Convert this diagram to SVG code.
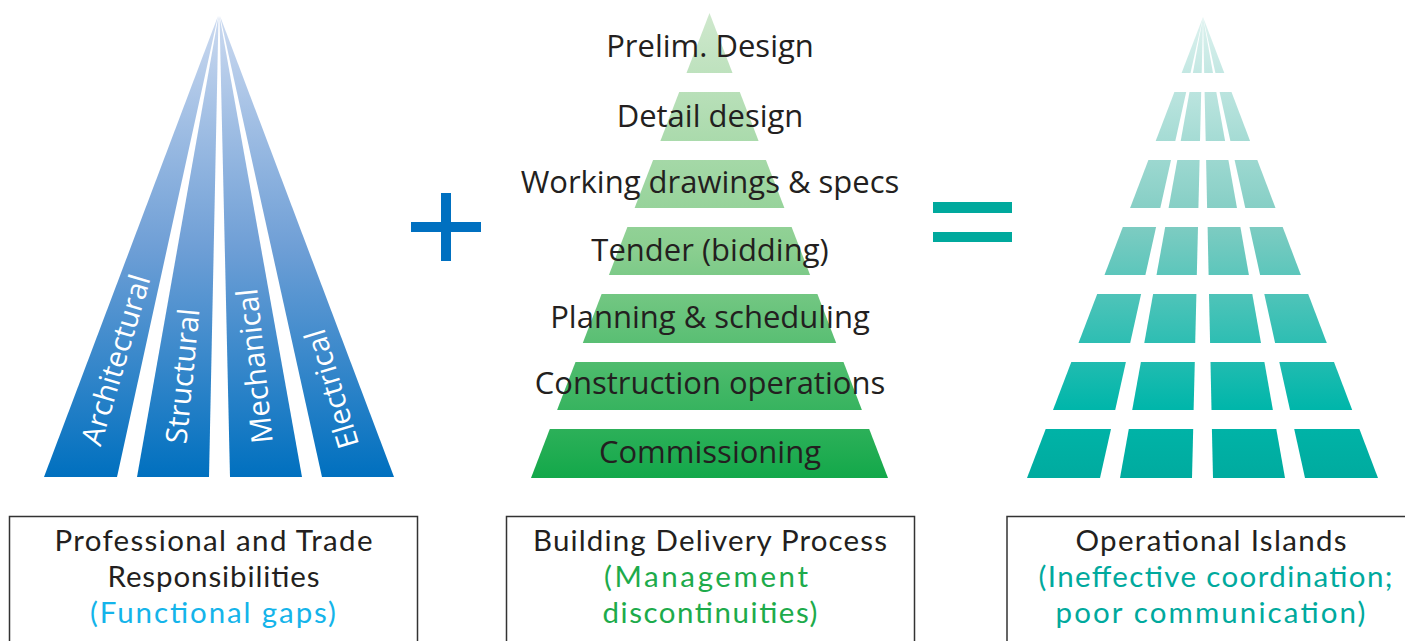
<svg xmlns="http://www.w3.org/2000/svg" width="1405" height="641" viewBox="0 0 1405 641">
<defs>
<linearGradient id="gBlue" gradientUnits="userSpaceOnUse" x1="0" y1="16" x2="0" y2="477">
<stop offset="0" stop-color="#ccdaf0"/>
<stop offset="0.5" stop-color="#6f9fd6"/>
<stop offset="1" stop-color="#0070bf"/>
</linearGradient>
<linearGradient id="gGreen" gradientUnits="userSpaceOnUse" x1="0" y1="13" x2="0" y2="478">
<stop offset="0" stop-color="#cfe8cd"/>
<stop offset="0.5" stop-color="#8ccf91"/>
<stop offset="1" stop-color="#13a84a"/>
</linearGradient>
<linearGradient id="gTeal" gradientUnits="userSpaceOnUse" x1="0" y1="17" x2="0" y2="478">
<stop offset="0" stop-color="#ddf2ef"/>
<stop offset="0.45" stop-color="#7fccc2"/>
<stop offset="0.85" stop-color="#00b6aa"/>
<stop offset="1" stop-color="#00ab9f"/>
</linearGradient>
</defs>
<style>
.t{font-family:"Open Sans","Noto Sans","DejaVu Sans",sans-serif;text-anchor:middle}
.strip{fill:url(#gBlue)}
.slab{fill:#ffffff;font-size:29.5px}
.tier{fill:url(#gGreen)}
.tlab{fill:#231f20;font-size:31px}
.tile{fill:url(#gTeal)}
.box{fill:none;stroke:#333333;stroke-width:1.5}
.bl{font-family:Lato,"Open Sans",sans-serif;text-anchor:middle;fill:#231f20;font-size:29.5px}
.cyan{fill:#14b4ea}
.green{fill:#1dab4b}
.teal{fill:#00a99d}
</style>

<g id="professional-pyramid">
<polygon class="strip" points="218,16 44,477 117,477"/>
<polygon class="strip" points="218.5,16 137,477 209,477"/>
<polygon class="strip" points="219.5,16 230,477 302,477"/>
<polygon class="strip" points="220,16 322,477 394,477"/>
<text class="t slab" transform="translate(116,360) rotate(-73.4)" x="0" y="10">Architectural</text>
<text class="t slab" transform="translate(183,376) rotate(-84.4)" x="0" y="10">Structural</text>
<text class="t slab" transform="translate(255,366) rotate(-95.8)" x="0" y="10">Mechanical</text>
<text class="t slab" transform="translate(332,389) rotate(-106.7)" x="0" y="10">Electrical</text>
</g>

<g id="plus">
<rect x="411" y="222" width="70" height="10" fill="#0070c0"/>
<rect x="441" y="193" width="10" height="68" fill="#0070c0"/>
</g>

<g id="delivery-pyramid">
<polygon class="tier" points="709.5,13 732.5,73 686.5,73"/>
<polygon class="tier" points="679.2,92 739.8,92 758.6,141 660.4,141"/>
<polygon class="tier" points="653.1,160 765.9,160 784.4,208 634.6,208"/>
<polygon class="tier" points="627.4,227 791.6,227 810.1,275 608.9,275"/>
<polygon class="tier" points="601.6,294 817.4,294 836.2,343 582.8,343"/>
<polygon class="tier" points="575.5,362 843.5,362 861.9,410 557.1,410"/>
<polygon class="tier" points="549.8,429 869.2,429 888,478 531,478"/>
<text class="t tlab" x="710" y="57">Prelim. Design</text>
<text class="t tlab" x="710" y="127">Detail design</text>
<text class="t tlab" x="710" y="193">Working drawings &amp; specs</text>
<text class="t tlab" x="710" y="261">Tender (bidding)</text>
<text class="t tlab" x="710" y="328">Planning &amp; scheduling</text>
<text class="t tlab" x="710" y="394">Construction operations</text>
<text class="t tlab" x="710" y="463">Commissioning</text>
</g>

<g id="equals">
<rect x="933" y="202" width="79" height="11" fill="#00a99d"/>
<rect x="933" y="232" width="79" height="10" fill="#00a99d"/>
</g>

<g id="islands-pyramid">
<polygon class="tile" points="1203,17 1190.5,73 1181.6,73"/>
<polygon class="tile" points="1203,17 1201.7,73 1192.9,73"/>
<polygon class="tile" points="1203,17 1213,73 1204.2,73"/>
<polygon class="tile" points="1203,17 1224.3,73 1215.4,73"/>
<polygon class="tile" points="1174.4,92 1186.2,92 1175.3,141 1155.7,141"/>
<polygon class="tile" points="1189.5,92 1201.2,92 1200.0,141 1180.7,141"/>
<polygon class="tile" points="1204.6,92 1216.3,92 1225.1,141 1205.7,141"/>
<polygon class="tile" points="1219.6,92 1231.5,92 1250.1,141 1230.4,141"/>
<polygon class="tile" points="1148.4,160 1171.0,160 1160.3,208 1130.1,208"/>
<polygon class="tile" points="1177.3,160 1199.6,160 1198.4,208 1168.6,208"/>
<polygon class="tile" points="1206.1,160 1228.4,160 1237.0,208 1207.1,208"/>
<polygon class="tile" points="1234.6,160 1257.3,160 1275.5,208 1245.3,208"/>
<polygon class="tile" points="1122.8,227 1156.1,227 1145.4,275 1104.5,275"/>
<polygon class="tile" points="1165.2,227 1198.0,227 1196.8,275 1156.5,275"/>
<polygon class="tile" points="1207.6,227 1240.4,227 1248.9,275 1208.6,275"/>
<polygon class="tile" points="1249.5,227 1282.7,227 1300.9,275 1260.1,275"/>
<polygon class="tile" points="1097.2,294 1141.1,294 1130.2,343 1078.5,343"/>
<polygon class="tile" points="1153.1,294 1196.4,294 1195.2,343 1144.3,343"/>
<polygon class="tile" points="1209.0,294 1252.3,294 1261.0,343 1210.1,343"/>
<polygon class="tile" points="1264.3,294 1308.2,294 1326.8,343 1275.1,343"/>
<polygon class="tile" points="1071.3,362 1125.9,362 1115.2,410 1053.0,410"/>
<polygon class="tile" points="1140.9,362 1194.8,362 1193.6,410 1132.2,410"/>
<polygon class="tile" points="1210.5,362 1264.4,362 1272.9,410 1211.5,410"/>
<polygon class="tile" points="1279.3,362 1334.0,362 1352.2,410 1290.0,410"/>
<polygon class="tile" points="1045.7,429 1111.0,429 1100,478 1027,478"/>
<polygon class="tile" points="1128.8,429 1193.2,429 1192,478 1120,478"/>
<polygon class="tile" points="1211.9,429 1276.3,429 1285,478 1213,478"/>
<polygon class="tile" points="1294.2,429 1359.4,429 1378,478 1305,478"/>
</g>

<g id="box-professional">
<rect class="box" x="9.5" y="516.5" width="408" height="140"/>
<text class="bl" x="213.5" y="551" textLength="318" lengthAdjust="spacing">Professional and Trade</text>
<text class="bl" x="213.5" y="587" textLength="212" lengthAdjust="spacing">Responsibilities</text>
<text class="bl cyan" x="213" y="623" textLength="246" lengthAdjust="spacing">(Functional gaps)</text>
</g>

<g id="box-delivery">
<rect class="box" x="506.5" y="516.5" width="408" height="140"/>
<text class="bl" x="710" y="551" textLength="354" lengthAdjust="spacing">Building Delivery Process</text>
<text class="bl green" x="706" y="587" textLength="204" lengthAdjust="spacing">(Management</text>
<text class="bl green" x="710" y="623" textLength="215" lengthAdjust="spacing">discontinuities)</text>
</g>

<g id="box-islands">
<rect class="box" x="1007" y="516.5" width="410" height="140"/>
<text class="bl" x="1211" y="551" textLength="271" lengthAdjust="spacing">Operational Islands</text>
<text class="bl teal" x="1215.5" y="587" textLength="354" lengthAdjust="spacing">(Ineffective coordination;</text>
<text class="bl teal" x="1210.5" y="623" textLength="310" lengthAdjust="spacing">poor communication)</text>
</g>
</svg>
